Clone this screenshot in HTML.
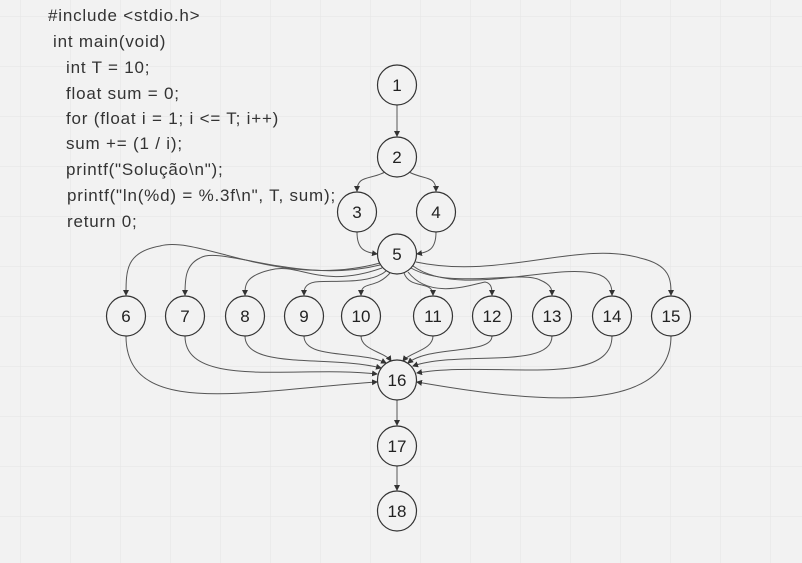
<!DOCTYPE html>
<html><head><meta charset="utf-8"><style>
html,body{margin:0;padding:0;width:802px;height:563px;overflow:hidden;background:#f2f2f2;}
.code{position:absolute;left:0;top:0;font-family:"Liberation Sans",sans-serif;font-size:17px;letter-spacing:0.8px;color:#333;}
.code div{position:absolute;white-space:pre;}
svg{position:absolute;left:0;top:0;}
</style></head><body>
<svg width="802" height="563" viewBox="0 0 802 563">
<defs>
<pattern id="g" width="50" height="50" patternUnits="userSpaceOnUse" x="20" y="16">
<path d="M0 0H50M0 0V50" stroke="#e4e4e4" stroke-width="1" fill="none"/>
</pattern>
<marker id="a" markerWidth="6" markerHeight="6" refX="5" refY="3" orient="auto" markerUnits="userSpaceOnUse">
<path d="M0,0 L6,3 L0,6 z" fill="#333"/>
</marker>
</defs>
<rect width="802" height="563" fill="url(#g)"/>
<g fill="none" stroke="#555" stroke-width="1" marker-end="url(#a)">
<path d="M397,105 V136"/>
<path d="M385,172 C370,180 357,175 357,191"/>
<path d="M409,172 C424,180 436,175 436,191"/>
<path d="M357,232 C357,250 365,252 377,254"/>
<path d="M436,232 C436,250 428,252 417,254"/>
<path d="M380,263 C280,290 200,235 160,246 C126,252 126,270 126,295"/>
<path d="M380,265 C300,285 220,245 200,258 C185,265 185,280 185,295"/>
<path d="M382,268 C320,290 300,262 270,270 C245,276 245,285 245,295"/>
<path d="M386,271 C370,285 330,280 315,282 C304,284 304,290 304,295"/>
<path d="M390,273 C375,290 361,280 361,295"/>
<path d="M404,273 C410,290 433,280 433,295"/>
<path d="M408,272 C430,300 470,285 485,282 C492,283 492,290 492,295"/>
<path d="M411,268 C450,290 520,270 540,280 C552,285 552,290 552,295"/>
<path d="M413,266 C460,300 560,260 600,275 C612,280 612,290 612,295"/>
<path d="M416,262 C500,280 580,240 640,258 C671,265 671,280 671,295"/>
<path d="M126,336 C126,420 250,390 377,382"/>
<path d="M185,336 C185,390 300,365 377,374"/>
<path d="M245,336 C245,370 330,355 381,368"/>
<path d="M304,336 C304,360 360,350 386,363"/>
<path d="M361,336 C361,350 385,352 391,361"/>
<path d="M433,336 C433,350 410,352 403,361"/>
<path d="M492,336 C492,355 430,345 408,363"/>
<path d="M552,336 C552,370 460,350 413,366"/>
<path d="M612,336 C612,390 490,360 417,373"/>
<path d="M671,336 C671,420 520,400 417,382"/>
<path d="M397,400 V425"/>
<path d="M397,466 V490"/>
</g>
<g fill="#f2f2f2" stroke="#333" stroke-width="1.2">
<ellipse cx="397" cy="85" rx="19.5" ry="20"/>
<ellipse cx="397" cy="157" rx="19.5" ry="20"/>
<ellipse cx="357" cy="212" rx="19.5" ry="20"/>
<ellipse cx="436" cy="212" rx="19.5" ry="20"/>
<ellipse cx="397" cy="254" rx="19.5" ry="20"/>
<ellipse cx="126" cy="316" rx="19.5" ry="20"/>
<ellipse cx="185" cy="316" rx="19.5" ry="20"/>
<ellipse cx="245" cy="316" rx="19.5" ry="20"/>
<ellipse cx="304" cy="316" rx="19.5" ry="20"/>
<ellipse cx="361" cy="316" rx="19.5" ry="20"/>
<ellipse cx="433" cy="316" rx="19.5" ry="20"/>
<ellipse cx="492" cy="316" rx="19.5" ry="20"/>
<ellipse cx="552" cy="316" rx="19.5" ry="20"/>
<ellipse cx="612" cy="316" rx="19.5" ry="20"/>
<ellipse cx="671" cy="316" rx="19.5" ry="20"/>
<ellipse cx="397" cy="380" rx="19.5" ry="20"/>
<ellipse cx="397" cy="446" rx="19.5" ry="20"/>
<ellipse cx="397" cy="511" rx="19.5" ry="20"/>
</g>
<g font-family="Liberation Sans, sans-serif" font-size="17" fill="#222" text-anchor="middle">
<text x="397" y="91">1</text>
<text x="397" y="163">2</text>
<text x="357" y="218">3</text>
<text x="436" y="218">4</text>
<text x="397" y="260">5</text>
<text x="126" y="322">6</text>
<text x="185" y="322">7</text>
<text x="245" y="322">8</text>
<text x="304" y="322">9</text>
<text x="361" y="322">10</text>
<text x="433" y="322">11</text>
<text x="492" y="322">12</text>
<text x="552" y="322">13</text>
<text x="612" y="322">14</text>
<text x="671" y="322">15</text>
<text x="397" y="386">16</text>
<text x="397" y="452">17</text>
<text x="397" y="517">18</text>
</g>
</svg>
<div class="code">
<div style="left:48px;top:6px">#include &lt;stdio.h&gt;</div>
<div style="left:53px;top:32px">int main(void)</div>
<div style="left:66px;top:58px">int T = 10;</div>
<div style="left:66px;top:84px">float sum = 0;</div>
<div style="left:66px;top:109px">for (float i = 1; i &lt;= T; i++)</div>
<div style="left:66px;top:134px">sum += (1 / i);</div>
<div style="left:66px;top:160px">printf("Solução\n");</div>
<div style="left:67px;top:186px">printf("ln(%d) = %.3f\n", T, sum);</div>
<div style="left:67px;top:212px">return 0;</div>
</div>
</body></html>
